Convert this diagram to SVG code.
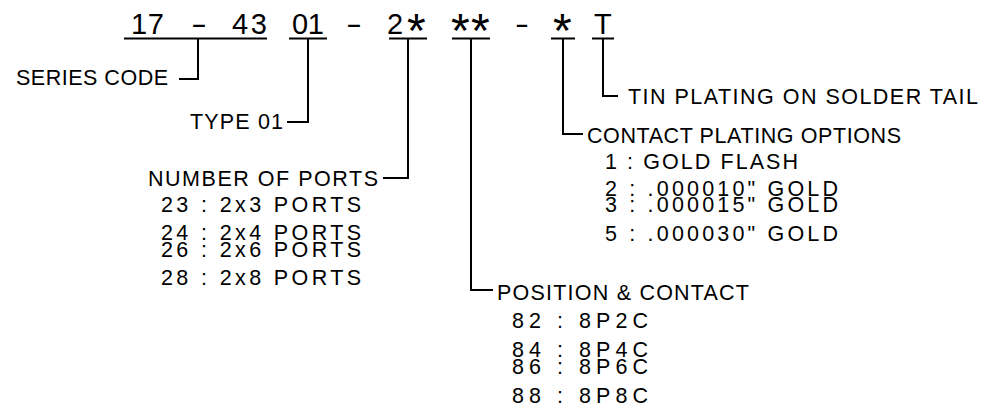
<svg xmlns="http://www.w3.org/2000/svg" width="989" height="414" viewBox="0 0 989 414">
<style>
.t{font-family:"Liberation Sans",Arial,sans-serif;font-size:21.5px;fill:#000}
.h{font-size:29px}
.s{font-size:48px}
.ln{stroke:#000;stroke-width:2;fill:none}
</style>
<rect width="989" height="414" fill="#fff"/>
<g id="code">
<text class="t h" x="131" y="34" textLength="33" lengthAdjust="spacing">17</text>
<text class="t h" x="191" y="34" textLength="16" lengthAdjust="spacingAndGlyphs">-</text>
<text class="t h" x="232" y="34" textLength="35" lengthAdjust="spacing">43</text>
<text class="t h" x="292" y="34" textLength="32" lengthAdjust="spacing">01</text>
<text class="t h" x="346" y="34" textLength="16" lengthAdjust="spacingAndGlyphs">-</text>
<text class="t h" x="387" y="34">2<tspan class="s" x="407" y="47">*</tspan></text>
<text class="t h"><tspan class="s" x="451" y="47">*</tspan><tspan class="s" x="471" y="47">*</tspan></text>
<text class="t h" x="515" y="34" textLength="14" lengthAdjust="spacingAndGlyphs">-</text>
<text class="t h"><tspan class="s" x="553" y="47">*</tspan></text>
<text class="t h" x="594" y="34">T</text>
</g>
<g id="connectors">
<path class="ln" d="M124 38.5H267M289 38.5H327M389 38.5H427M452 38.5H490M551 38.5H575M592 38.5H614"/>
<path class="ln" d="M198 38.5V79H179"/>
<path class="ln" d="M308 38.5V122H287"/>
<path class="ln" d="M408 38.5V178H383"/>
<path class="ln" d="M471 38.5V290H493"/>
<path class="ln" d="M563 38.5V134H583"/>
<path class="ln" d="M603 38.5V96H618"/>
</g>
<g id="series">
<text class="t" x="16" y="85" textLength="152" lengthAdjust="spacing">SERIES CODE</text>
</g>
<g id="type">
<text class="t" x="190" y="129" textLength="93" lengthAdjust="spacing">TYPE 01</text>
</g>
<g id="ports">
<text class="t" x="148" y="186" textLength="230" lengthAdjust="spacing">NUMBER OF PORTS</text>
<text class="t" x="161" y="212" textLength="200" lengthAdjust="spacing">23 : 2x3 PORTS</text>
<text class="t" x="161" y="240" textLength="200" lengthAdjust="spacing">24 : 2x4 PORTS</text>
<text class="t" x="161" y="257" textLength="200" lengthAdjust="spacing">26 : 2x6 PORTS</text>
<text class="t" x="161" y="285" textLength="200" lengthAdjust="spacing">28 : 2x8 PORTS</text>
</g>
<g id="position">
<text class="t" x="497" y="300" textLength="252" lengthAdjust="spacing">POSITION &amp; CONTACT</text>
<text class="t" x="512" y="328" textLength="136" lengthAdjust="spacing">82 : 8P2C</text>
<text class="t" x="512" y="357" textLength="136" lengthAdjust="spacing">84 : 8P4C</text>
<text class="t" x="512" y="374" textLength="136" lengthAdjust="spacing">86 : 8P6C</text>
<text class="t" x="512" y="403" textLength="136" lengthAdjust="spacing">88 : 8P8C</text>
</g>
<g id="contact">
<text class="t" x="587" y="143" textLength="314" lengthAdjust="spacing">CONTACT PLATING OPTIONS</text>
<text class="t" x="605" y="169" textLength="193" lengthAdjust="spacing">1 : GOLD FLASH</text>
<text class="t" x="605" y="196" textLength="233" lengthAdjust="spacing">2 : .000010" GOLD</text>
<text class="t" x="605" y="212" textLength="233" lengthAdjust="spacing">3 : .000015" GOLD</text>
<text class="t" x="605" y="241" textLength="233" lengthAdjust="spacing">5 : .000030" GOLD</text>
</g>
<g id="tin">
<text class="t" x="628" y="104" textLength="350" lengthAdjust="spacing">TIN PLATING ON SOLDER TAIL</text>
</g>
</svg>
